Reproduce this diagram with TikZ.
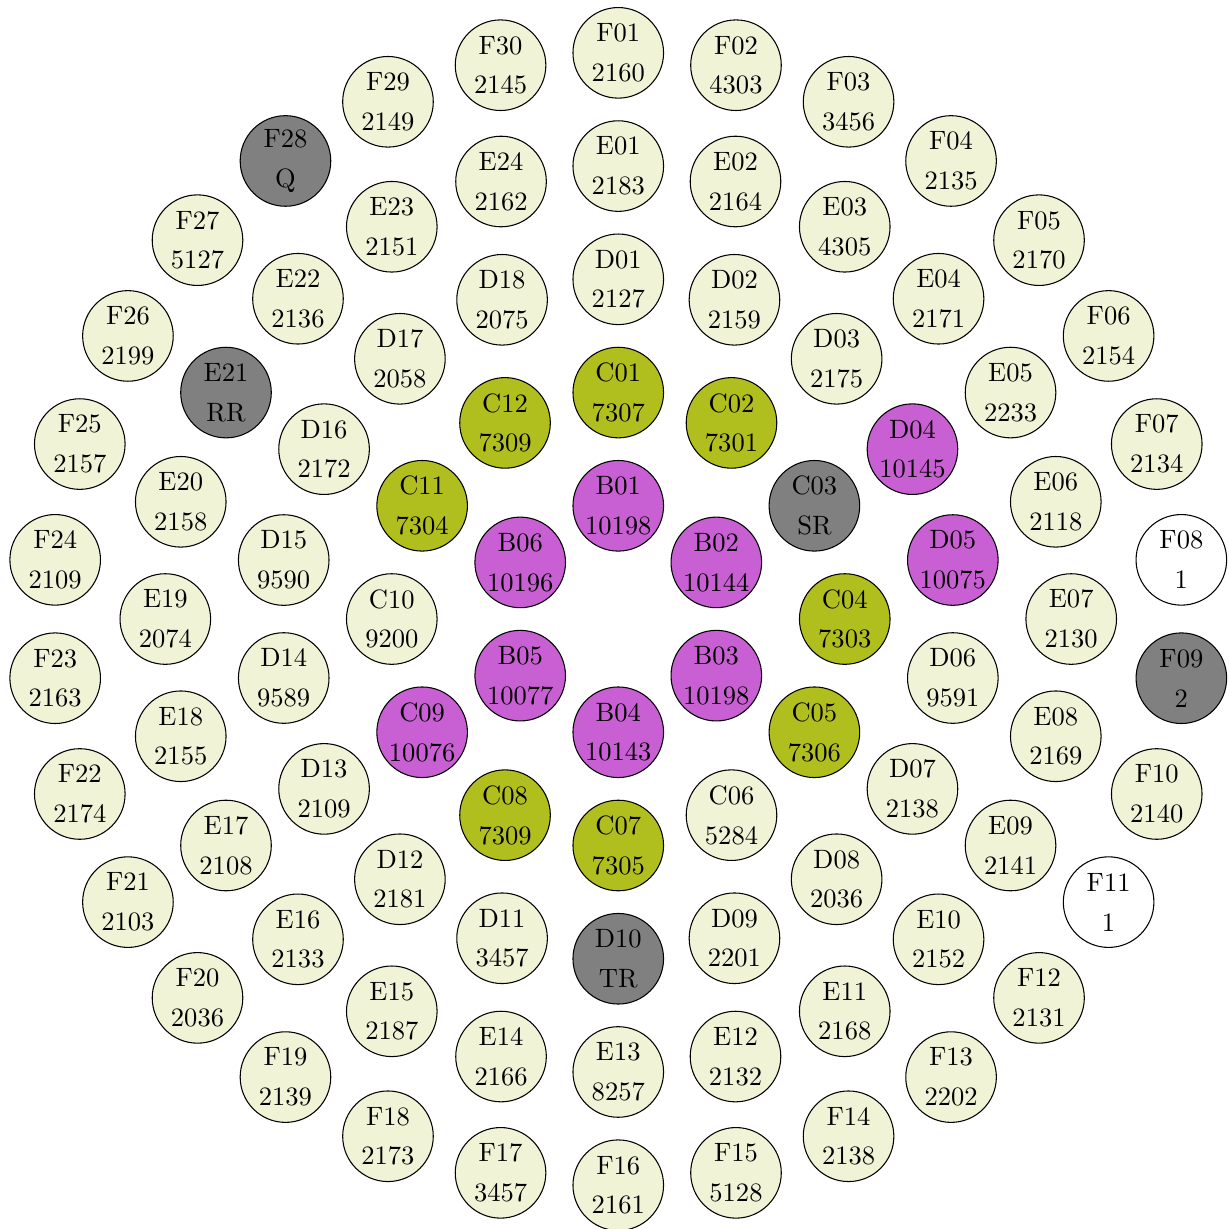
\documentclass[tikz,border=0pt]{standalone}
\usepackage{xcolor}
\definecolor{palecell}{RGB}{240,243,214}
\definecolor{limecell}{RGB}{176,191,30}
\definecolor{violetcell}{RGB}{200,95,210}
\definecolor{graycell}{RGB}{128,128,128}

\begin{document}
\begin{tikzpicture}[cell/.style={draw, circle, minimum size=1.2cm, inner sep=0pt, align=center, font=\normalsize}]
\useasboundingbox (-8.19,-8.08) rectangle (8.09,8.2);
% ring B
\foreach \name/\val/\col [count=\i from 0] in {B01/10198/violetcell, B02/10144/violetcell, B03/10198/violetcell, B04/10143/violetcell, B05/10077/violetcell, B06/10196/violetcell}
  \node[cell, fill=\col] (\name) at ({90-60*\i}:1.5) {\name\\[3pt]\val};
% ring C
\foreach \name/\val/\col [count=\i from 0] in {C01/7307/limecell, C02/7301/limecell, C03/SR/graycell, C04/7303/limecell, C05/7306/limecell, C06/5284/palecell, C07/7305/limecell, C08/7309/limecell, C09/10076/violetcell, C10/9200/palecell, C11/7304/limecell, C12/7309/limecell}
  \node[cell, fill=\col] (\name) at ({90-30*\i}:3) {\name\\[3pt]\val};
% ring D
\foreach \name/\val/\col [count=\i from 0] in {D01/2127/palecell, D02/2159/palecell, D03/2175/palecell, D04/10145/violetcell, D05/10075/violetcell, D06/9591/palecell, D07/2138/palecell, D08/2036/palecell, D09/2201/palecell, D10/TR/graycell, D11/3457/palecell, D12/2181/palecell, D13/2109/palecell, D14/9589/palecell, D15/9590/palecell, D16/2172/palecell, D17/2058/palecell, D18/2075/palecell}
  \node[cell, fill=\col] (\name) at ({90-20*\i}:4.5) {\name\\[3pt]\val};
% ring E
\foreach \name/\val/\col [count=\i from 0] in {E01/2183/palecell, E02/2164/palecell, E03/4305/palecell, E04/2171/palecell, E05/2233/palecell, E06/2118/palecell, E07/2130/palecell, E08/2169/palecell, E09/2141/palecell, E10/2152/palecell, E11/2168/palecell, E12/2132/palecell, E13/8257/palecell, E14/2166/palecell, E15/2187/palecell, E16/2133/palecell, E17/2108/palecell, E18/2155/palecell, E19/2074/palecell, E20/2158/palecell, E21/RR/graycell, E22/2136/palecell, E23/2151/palecell, E24/2162/palecell}
  \node[cell, fill=\col] (\name) at ({90-15*\i}:6) {\name\\[3pt]\val};
% ring F
\foreach \name/\val/\col [count=\i from 0] in {F01/2160/palecell, F02/4303/palecell, F03/3456/palecell, F04/2135/palecell, F05/2170/palecell, F06/2154/palecell, F07/2134/palecell, F08/1/white, F09/2/graycell, F10/2140/palecell, F11/1/white, F12/2131/palecell, F13/2202/palecell, F14/2138/palecell, F15/5128/palecell, F16/2161/palecell, F17/3457/palecell, F18/2173/palecell, F19/2139/palecell, F20/2036/palecell, F21/2103/palecell, F22/2174/palecell, F23/2163/palecell, F24/2109/palecell, F25/2157/palecell, F26/2199/palecell, F27/5127/palecell, F28/Q/graycell, F29/2149/palecell, F30/2145/palecell}
  \node[cell, fill=\col] (\name) at ({90-12*\i}:7.5) {\name\\[3pt]\val};
\end{tikzpicture}
\end{document}
